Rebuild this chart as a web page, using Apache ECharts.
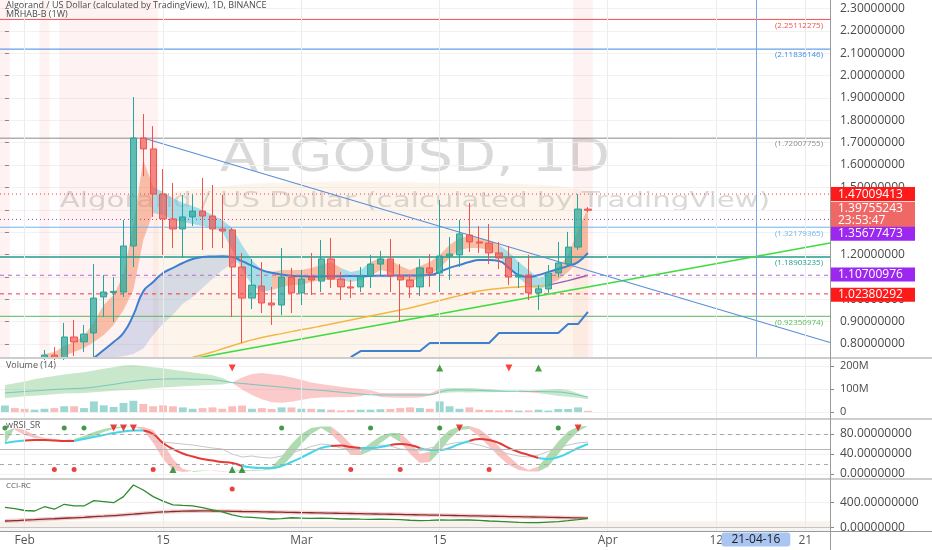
<!DOCTYPE html>
<html>
<head>
<meta charset="utf-8">
<title>ALGOUSD, 1D</title>
<script src="https://cdn.jsdelivr.net/npm/echarts@6/dist/echarts.min.js"></script>
<style>
  html, body { margin: 0; padding: 0; background: #fff; }
  #chart { width: 932px; height: 550px; }
</style>
</head>
<body>
<div id="chart"></div>
<script>
// ---- values ----
const firstDay = '2021-01-30';
const dayCount = 84;
const tickDays = ['2021-02-01', '2021-02-15', '2021-03-01', '2021-03-15', '2021-04-01', '2021-04-12', '2021-04-21'];
const tickLabels = ['Feb', '15', 'Mar', '15', 'Apr', '12', '21'];
const crossDay = '2021-04-16';
const crossLabel = '21-04-16';

const priceTicks = [0.8, 0.9, 1.0, 1.1, 1.2, 1.3, 1.4, 1.5, 1.6, 1.7, 1.8, 1.9, 2.0, 2.1, 2.2, 2.3];

// daily candles [open, close, low, high], first one on index 4 (Feb 3)
const firstCandle = 4;
const candles = [
  [0.737, 0.750, 0.728, 0.773], [0.750, 0.737, 0.728, 0.786], [0.737, 0.831, 0.728, 0.894],
  [0.831, 0.809, 0.746, 0.907], [0.809, 0.844, 0.764, 0.885], [0.849, 1.005, 0.737, 1.157],
  [1.010, 1.032, 0.920, 1.108], [1.030, 1.035, 0.898, 1.099], [1.032, 1.238, 1.010, 1.354],
  [1.238, 1.721, 1.144, 1.904], [1.721, 1.672, 1.550, 1.828], [1.672, 1.470, 1.368, 1.774],
  [1.470, 1.359, 1.198, 1.582], [1.359, 1.314, 1.229, 1.520], [1.314, 1.368, 1.184, 1.466],
  [1.368, 1.394, 1.327, 1.466], [1.394, 1.372, 1.220, 1.542], [1.372, 1.314, 1.229, 1.511],
  [1.314, 1.305, 1.229, 1.466], [1.310, 1.144, 0.920, 1.318], [1.144, 1.005, 0.804, 1.207],
  [1.005, 1.063, 0.956, 1.180], [1.059, 0.983, 0.938, 1.166], [0.983, 0.974, 0.885, 1.055],
  [0.974, 1.099, 0.929, 1.229], [1.099, 1.028, 0.938, 1.140], [1.028, 1.090, 0.974, 1.131],
  [1.099, 1.086, 1.019, 1.207], [1.081, 1.180, 1.032, 1.265], [1.180, 1.090, 1.050, 1.274],
  [1.090, 1.055, 0.996, 1.122], [1.055, 1.050, 1.005, 1.086], [1.055, 1.104, 1.032, 1.144],
  [1.104, 1.157, 1.050, 1.198], [1.157, 1.180, 1.108, 1.216], [1.180, 1.104, 1.032, 1.269],
  [1.104, 1.086, 0.900, 1.157], [1.086, 1.055, 1.005, 1.108], [1.055, 1.140, 1.014, 1.180],
  [1.140, 1.117, 1.055, 1.202], [1.117, 1.193, 1.032, 1.444], [1.193, 1.202, 1.086, 1.278],
  [1.198, 1.292, 1.144, 1.354], [1.287, 1.256, 1.211, 1.430], [1.256, 1.251, 1.207, 1.327],
  [1.251, 1.207, 1.157, 1.336], [1.207, 1.184, 1.135, 1.256], [1.184, 1.099, 1.063, 1.238],
  [1.099, 1.108, 1.050, 1.166], [1.108, 1.028, 0.996, 1.198], [1.028, 1.046, 0.952, 1.063],
  [1.046, 1.117, 1.028, 1.153], [1.117, 1.162, 1.099, 1.256], [1.157, 1.233, 1.144, 1.301],
  [1.233, 1.403, 1.220, 1.470], [1.403, 1.39755, 1.390, 1.412]
];

// MRHAB band around the candles (o = orange, c = cyan)
const haLow = [0.737, 0.737, 0.746, 0.764, 0.782, 0.809, 0.840, 0.885, 0.952, 1.041,
  1.265, 1.385, 1.377, 1.354, 1.345, 1.336, 1.327, 1.318, 1.300, 1.220,
  1.131, 1.063, 1.032, 1.041, 1.055, 1.063, 1.063, 1.077, 1.086, 1.086,
  1.086, 1.077, 1.086, 1.104, 1.131, 1.122, 1.095, 1.077, 1.095, 1.108,
  1.140, 1.184, 1.220, 1.229, 1.229, 1.220, 1.193, 1.140, 1.095, 1.059,
  1.041, 1.063, 1.086, 1.122, 1.166, 1.211];
const haHigh = [0.755, 0.764, 0.791, 0.809, 0.835, 0.898, 0.974, 1.019, 1.108, 1.332,
  1.622, 1.502, 1.480, 1.453, 1.430, 1.417, 1.399, 1.377, 1.354, 1.318,
  1.242, 1.175, 1.131, 1.122, 1.131, 1.131, 1.131, 1.140, 1.153, 1.166,
  1.140, 1.122, 1.131, 1.166, 1.184, 1.175, 1.149, 1.131, 1.149, 1.166,
  1.198, 1.242, 1.274, 1.283, 1.274, 1.265, 1.242, 1.211, 1.166, 1.131,
  1.095, 1.108, 1.140, 1.198, 1.309, 1.408];
const haState = 'ooooooooooo' + 'cccccccccccc' + 'ooooooo' + 'ccc' + 'ooooooooooooo' + 'ccccc' + 'ooooo';

// weekly blue line and its shaded band (from index 9)
const blueFrom = 9;
const blueLine = [0.737, 0.773, 0.809, 0.849, 0.930, 1.035, 1.077, 1.117, 1.140, 1.162,
  1.180, 1.189, 1.191, 1.192, 1.189, 1.170, 1.150, 1.130, 1.118, 1.110,
  1.105, 1.103, 1.102, 1.102, 1.103, 1.103, 1.104, 1.104, 1.104, 1.105,
  1.105, 1.106, 1.106, 1.107, 1.108, 1.122, 1.140, 1.153, 1.166, 1.175,
  1.175, 1.171, 1.140, 1.108, 1.099, 1.108, 1.122, 1.135, 1.149, 1.166, 1.207];
const blueLow = [0.737, 0.738, 0.740, 0.745, 0.755, 0.780, 0.840, 0.890, 0.930, 0.980,
  1.010, 1.050, 1.090, 1.130, 1.160, 1.170];

// slow average (yellow, from index 19) and its purple tail (from index 55)
const smaFrom = 19;
const smaLine = [0.741, 0.752, 0.764, 0.778, 0.792, 0.805, 0.818, 0.829, 0.838, 0.846,
  0.855, 0.863, 0.871, 0.880, 0.889, 0.898, 0.907, 0.916, 0.925, 0.934,
  0.943, 0.952, 0.961, 0.972, 0.983, 0.994, 1.005, 1.016, 1.028, 1.037,
  1.043, 1.048, 1.052, 1.055, 1.057, 1.059, 1.061];
const purpleFrom = 55;
const purpleLine = [1.063, 1.073, 1.083, 1.095, 1.107];

// weekly step line (from index 35)
const stepFrom = 35;
const stepLine = [0.741, 0.768, 0.768, 0.768, 0.768, 0.768, 0.768, 0.768,
  0.804, 0.804, 0.804, 0.804, 0.804, 0.804, 0.804,
  0.849, 0.849, 0.849, 0.849, 0.849, 0.849, 0.849, 0.889, 0.889, 0.943];

// large peach cloud top edge (from index 15)
const cloudFrom = 15;
const cloudTop = [1.40, 1.45, 1.475, 1.485, 1.49, 1.495, 1.50, 1.505, 1.51, 1.513,
  1.516, 1.518, 1.52, 1.522, 1.523, 1.524, 1.525, 1.525, 1.526, 1.526,
  1.526, 1.525, 1.525, 1.524, 1.524, 1.523, 1.523, 1.522, 1.522, 1.521,
  1.521, 1.52, 1.52, 1.52, 1.519, 1.518, 1.517, 1.516, 1.514, 1.512,
  1.51, 1.505, 1.50, 1.49, 1.48];

// drawn trend lines [day index, price]
const greenTrend = [[19.4, 0.737], [83.5, 1.251]];
const blueTrend = [[14, 1.721], [83.5, 0.806]];

// pink highlighted days [from, to]
const pinkDays = [[0, 0], [4, 4], [6, 15], [58, 59]];
const volPinkDays = [[9, 9], [44, 44]];

// horizontal levels
const levelValues = [2.25112275, 2.11836146, 1.72007755, 1.32179365, 1.18903235, 0.92350974];
const boxValues = [1.47009413, 1.39755243, 1.35677473, 1.10700976, 1.02380292];
const countdown = '23:53:47';

// volume, millions
const volume = [28, 17, 14, 10, 14, 17, 25, 25, 17, 46, 29, 22, 39, 49, 35, 25, 29, 25, 20, 14,
  17, 20, 14, 25, 28, 14, 17, 13, 20, 20, 14, 14, 12, 10, 7, 9, 10, 10, 12, 13,
  17, 20, 17, 14, 46, 25, 14, 20, 10, 9, 7, 9, 6, 7, 10, 6, 13, 13, 20, 5];
const earlyVolUp = [true, false, false, true];
const volMid = [83, 86, 89, 92, 95, 98, 100, 102, 104, 108, 114, 120, 127, 133, 138, 141, 143, 144, 144, 143,
  142, 140, 135, 128, 124, 120, 116, 112, 108, 104, 100, 97, 94, 90, 86, 82, 78, 75, 74, 74,
  74, 74, 74, 75, 86, 95, 96, 95, 94, 92, 91, 90, 90, 89, 89, 88, 87, 82, 74, 65];
const volUp = [117, 125, 133, 142, 150, 157, 163, 168, 173, 180, 188, 195, 202, 204, 200, 195, 190, 184, 178, 172,
  166, 160, 148, 128, 150, 165, 170, 164, 160, 150, 140, 128, 122, 115, 110, 104, 100, 95, 83, 83,
  83, 83, 83, 80, 100, 104, 104, 104, 102, 100, 96, 92, 94, 93, 96, 98, 100, 96, 82, 65];
const volLo = [61, 64, 68, 71, 74, 77, 80, 82, 83, 86, 89, 92, 95, 97, 100, 103, 106, 109, 112, 114,
  116, 118, 120, 126, 98, 74, 55, 42, 40, 45, 52, 60, 63, 64, 64, 65, 68, 80, 65, 63,
  62, 62, 63, 72, 80, 85, 86, 85, 86, 86, 87, 88, 86, 86, 82, 76, 70, 66, 62, 55];
const volState = 'ggggggggggggggggggggggg' + 'ppppppppppppppppppppp' + 'gggggggg' + 'pp' + 'gggggg';
const volDown = [23, 51];
const volRise = [44, 54];
const volMarkLevel = 191;

// wRSI_SR
const rsiFast = [85, 88, 78, 72, 70, 68, 66, 70, 76, 84, 90, 94, 95, 94, 88, 62, 30, 8, 4, 6,
  7, 6, 5, 6, 8, 7, 8, 14, 35, 60, 80, 92, 95, 80, 60, 38, 46, 62, 76, 82,
  64, 40, 22, 45, 70, 88, 95, 90, 75, 55, 35, 18, 8, 5, 15, 40, 65, 85, 95, 96];
const rsiSlow = [60, 92, 88, 78, 72, 70, 68, 66, 70, 76, 84, 90, 93, 95, 94, 88, 62, 30, 10, 4,
  6, 7, 6, 5, 6, 8, 7, 9, 14, 35, 60, 80, 92, 95, 80, 60, 38, 46, 62, 76,
  82, 64, 40, 24, 45, 70, 88, 96, 90, 75, 55, 35, 18, 8, 5, 15, 40, 65, 85, 95];
const rsiSignal = [62, 65, 67, 68, 68, 67, 66, 66, 70, 74, 78, 82, 85, 87, 87, 80, 62, 50, 41, 35,
  30, 27, 24, 22, 16, 13, 12, 12, 16, 24, 33, 43, 52, 56, 57, 54, 52, 52, 54, 58,
  60, 58, 52, 48, 48, 52, 60, 66, 70, 68, 62, 52, 44, 38, 32, 30, 34, 42, 52, 60];
const signalState = 'cc' + 'rrrrr' + 'ccccccc' + 'rrrrrrrrrr' + 'ccccccccc' + 'rrr' + 'ccc' + 'rrr' + 'ccccc' + 'rrrrrrr' + 'cccccc';
const rsiRawFrom = 15;
const rsiRaw = [66, 64, 62, 60, 58, 55, 52, 50, 40, 34, 36, 33, 32, 36, 42, 48, 55, 60, 58, 52,
  50, 50, 55, 58, 56, 50, 48, 46, 52, 56, 60, 64, 62, 58, 52, 46, 40, 36, 34, 38,
  45, 52, 58, 62, 64];
const rsiLevels = [80, 50, 20];
const rsiTopLevel = 92, rsiBottomLevel = 9;
const rsiTopGreen = [0, 6, 8, 28, 37, 44, 56];
const rsiTopRed = [11, 12, 13, 46, 58];
const rsiBottomRed = [5, 7, 15, 35, 40, 49];
const rsiBottomGreen = [17, 23, 24];

// CCI-RC
const cci = [320, 300, 270, 262, 330, 290, 369, 342, 342, 426, 410, 394, 490, 676, 596, 490, 420, 358, 350, 345,
  315, 280, 248, 200, 168, 160, 150, 135, 140, 155, 150, 145, 150, 145, 135, 135, 132, 130, 132, 130,
  125, 115, 108, 112, 119, 118, 120, 119, 112, 103, 98, 90, 82, 78, 77, 85, 93, 108, 125, 146];
const cciMa = [103, 109, 117, 124, 132, 139, 147, 154, 162, 171, 180, 190, 200, 212, 225, 237, 247, 254, 259, 262,
  263, 262, 260, 257, 254, 252, 249, 246, 243, 240, 237, 234, 231, 228, 225, 222, 219, 216, 213, 210,
  207, 204, 201, 198, 195, 192, 189, 186, 183, 180, 177, 174, 171, 168, 165, 162, 159, 156, 152, 148];
const cciDots = [[23, 612]];
const cciZone = [0, 100];

// ---- helpers ----
const dates = [];
for (let i = 0; i < dayCount; i++) {
  const d = new Date(Date.parse(firstDay + 'T00:00:00Z') + i * 86400000);
  dates.push(d.toISOString().slice(0, 10));
}

function place(values, from) {
  const out = [];
  for (let i = 0; i < from; i++) out.push('-');
  return out.concat(values);
}
function segment(values, state, key) {
  return values.map((v, i) => (v !== '-' && (state[i] === key || state[i - 1] === key)) ? v : '-');
}
function band(lo, hi, state, key) {
  const base = [], width = [];
  lo.forEach((l, i) => {
    const on = l !== '-' && hi[i] !== '-' && (state[i] === key || state[i - 1] === key);
    base.push(on ? Math.min(l, hi[i]) : '-');
    width.push(on ? +Math.abs(hi[i] - l).toFixed(5) : '-');
  });
  return { base, width };
}
function stackPair(name, b, color, xi, yi, z) {
  return [
    { name: name + '-base', type: 'line', xAxisIndex: xi, yAxisIndex: yi, stack: name, data: b.base,
      symbol: 'none', lineStyle: { opacity: 0 }, silent: true, z: z },
    { name: name, type: 'line', xAxisIndex: xi, yAxisIndex: yi, stack: name, data: b.width,
      symbol: 'none', lineStyle: { opacity: 0 }, areaStyle: { color: color, opacity: 1 }, silent: true, z: z }
  ];
}
function vGrid(extra) {
  const data = tickDays.map(d => ({ xAxis: d, lineStyle: { color: gridLineColor, type: 'solid', width: 1 } }));
  return data.concat(extra || []);
}
function markerSeries(idx, level, symbol, color, size, rotate, xi, yi) {
  return {
    type: 'scatter', xAxisIndex: xi, yAxisIndex: yi, symbol: symbol, symbolSize: size,
    symbolRotate: rotate || 0, itemStyle: { color: color }, silent: true, z: 6,
    data: idx.map(i => [i, level])
  };
}
// a horizontal level drawn across the whole day range, with its tag as a markLine label
function levelSeries(v, color, width, type, label, showLine) {
  return {
    type: 'line', xAxisIndex: 4, yAxisIndex: 0, silent: true, z: 3, symbol: 'none',
    data: [[-0.5, v], [dayCount - 0.5, v]],
    lineStyle: { color: color, width: width, type: type, opacity: showLine ? 1 : 0 },
    markLine: { silent: true, symbol: ['none', 'none'], animation: false,
      lineStyle: { color: 'rgba(0,0,0,0)', width: 0 },
      label: label, data: [{ yAxis: v }] }
  };
}

const font = "'Open Sans', 'DejaVu Sans', sans-serif";
const wideFont = "'DejaVu Sans', sans-serif";
const gridLineColor = '#ececec';
const axisTextColor = '#4a4a4a';

// ---- main price panel ----
const haStateFull = ' '.repeat(firstCandle) + haState;
const haLowFull = place(haLow, firstCandle);
const haHighFull = place(haHigh, firstCandle);
const haOrange = band(haLowFull, haHighFull, haStateFull, 'o');
const haCyan = band(haLowFull, haHighFull, haStateFull, 'c');

const blueLineFull = place(blueLine, blueFrom);
const blueLowFull = place(blueLow, blueFrom);
const blueBand = band(blueLowFull, blueLineFull.slice(0, blueLowFull.length), ' '.repeat(blueFrom) + 'b'.repeat(blueLow.length), 'b');

const levelColors = ['#f0524f', '#3d8be0', '#8a8a8a', '#6fb4ee', '#1f9c8c', '#58b858'];
const levelWidths = [1, 1, 1, 1, 1.5, 1];
const boxColors = ['#ff1a1a', '#f06866', '#9b27f0', '#9b27f0', '#ff1a1a'];
const boxLineColors = ['#f23645', '#f06866', '#a33ac4', '#b36ad6', '#f23645'];
const boxLineShown = [true, false, true, true, true];
const boxLineTypes = [[1, 3], 'solid', [1, 3], [4, 4], [4, 4]];
const boxOffsets = [[0, 0], [0, 5], [0, 15], [0, 0], [0, 0]];

const levelSeriesList = levelValues.map((v, k) => levelSeries(v, levelColors[k], levelWidths[k], 'solid', {
  show: true, position: 'insideEndBottom', distance: [7, 2], fontSize: 8,
  color: levelColors[k], formatter: '(' + v.toFixed(8) + ')'
}, true));
const boxSeriesList = boxValues.map((v, k) => levelSeries(v, boxLineColors[k], 1, boxLineTypes[k], {
  show: true, position: 'end', distance: 0, offset: boxOffsets[k],
  backgroundColor: boxColors[k], color: '#fff', fontSize: 12, lineHeight: 12,
  padding: [1, 8, 1, 8], width: 69, align: 'left',
  formatter: k === 1 ? v.toFixed(8) + '\n' + countdown : v.toFixed(8)
}, boxLineShown[k]));

const candleData = candles.map((c, k) => [firstCandle + k, c[0], c[1], c[2], c[3]]);

// ---- volume panel ----
const volBars = volume.map((v, i) => {
  const up = i < firstCandle ? earlyVolUp[i] : candles[i - firstCandle][1] >= candles[i - firstCandle][0];
  return { value: v * 1e6, itemStyle: { color: up ? 'rgba(38,166,154,0.45)' : 'rgba(239,83,80,0.38)' } };
});
const volUpM = volUp.map(v => v * 1e6), volLoM = volLo.map(v => v * 1e6);
const volGreen = band(volLoM, volUpM, volState, 'g');
const volPink = band(volLoM, volUpM, volState, 'p');

// ---- wRSI ----
const ribState = rsiFast.map((f, i) => f >= rsiSlow[i] ? 'g' : 'p').join('');
const ribGreen = band(rsiFast, rsiSlow, ribState, 'g');
const ribPink = band(rsiFast, rsiSlow, ribState, 'p');

// ---- options ----
const grids = [
  { left: 0, right: 102, top: 0, height: 357 },
  { left: 0, right: 102, top: 359, height: 59 },
  { left: 0, right: 102, top: 420, height: 58 },
  { left: 0, right: 102, top: 480, height: 51.5 }
];

function catAxis(gi, showLabels) {
  return {
    type: 'category', gridIndex: gi, data: dates, boundaryGap: true,
    axisLine: { show: false }, axisTick: { show: false }, splitLine: { show: false },
    axisLabel: showLabels ? {
      show: true, margin: 3, color: '#555', fontSize: 12,
      interval: (idx, val) => tickDays.indexOf(val) >= 0,
      formatter: val => tickLabels[tickDays.indexOf(val)] || ''
    } : { show: false }
  };
}
function valAxis(gi, min, max, ticks, fmt, fontSize) {
  return {
    type: 'value', gridIndex: gi, position: 'right', min: min, max: max,
    axisLine: { show: false },
    axisTick: { show: true, length: 4, lineStyle: { color: '#888' }, customValues: ticks },
    axisLabel: { customValues: ticks, formatter: fmt, color: axisTextColor, fontSize: fontSize || 12, margin: 10 },
    splitLine: { show: true, lineStyle: { color: '#f2f2f2' } }
  };
}

const xAxes = [catAxis(0, false), catAxis(1, false), catAxis(2, false), catAxis(3, true),
  { type: 'value', gridIndex: 0, min: -0.5, max: dayCount - 0.5, show: false }];
xAxes[3].axisPointer = {
  show: true, value: dates.indexOf(crossDay), status: 'show', type: 'line',
  lineStyle: { opacity: 0 }, handle: { show: false },
  label: { show: true, formatter: () => crossLabel, backgroundColor: '#a9c6f2', color: '#1b1b1b',
    fontSize: 12, padding: [1, 10, 1, 10], margin: 1, fontFamily: font }
};

const yAxes = [
  valAxis(0, 0.7415, 2.338, priceTicks, v => v.toFixed(8)),
  valAxis(1, -26.1e6, 230.4e6, [0, 1e8, 2e8], v => v === 0 ? '0' : (v / 1e6) + 'M', 11),
  valAxis(2, -8, 108, [0, 40, 80], v => v.toFixed(8)),
  valAxis(3, -64, 755, [0, 400], v => v.toFixed(8))
];

const crossLine = { xAxis: crossDay, lineStyle: { color: '#7ea6e0', width: 1, type: 'solid' } };

const series = [
  // peach cloud with the vertical grid lines
  { name: 'cloud', type: 'line', xAxisIndex: 0, yAxisIndex: 0, data: place(cloudTop, cloudFrom),
    symbol: 'none', smooth: true, lineStyle: { opacity: 0 }, silent: true, z: 1,
    areaStyle: { color: 'rgba(245,190,130,0.22)', origin: 'start' },
    markLine: { silent: true, symbol: ['none', 'none'], label: { show: false }, data: vGrid([crossLine]) } },
  // pink day highlights + trend lines on the day-index axis
  { name: 'greenTrend', type: 'line', xAxisIndex: 4, yAxisIndex: 0, data: greenTrend, symbol: 'none',
    lineStyle: { color: '#3fdc3f', width: 1.6 }, silent: true, z: 4,
    markArea: { silent: true, itemStyle: { color: 'rgba(255,110,110,0.09)' },
      data: pinkDays.map(p => [{ xAxis: p[0] - 0.5 }, { xAxis: p[1] + 0.5 }]) } },
  { name: 'blueTrend', type: 'line', xAxisIndex: 4, yAxisIndex: 0, data: blueTrend, symbol: 'none',
    lineStyle: { color: '#5b8fd6', width: 1.1 }, silent: true, z: 4 },
  ...levelSeriesList,
  ...stackPair('blueBand', blueBand, 'rgba(90,135,200,0.24)', 0, 0, 2),
  ...stackPair('haOrange', haOrange, 'rgba(242,125,75,0.45)', 0, 0, 2),
  ...stackPair('haCyan', haCyan, 'rgba(95,200,228,0.55)', 0, 0, 2),
  { name: 'blueLine', type: 'line', xAxisIndex: 0, yAxisIndex: 0, data: blueLineFull, symbol: 'none',
    smooth: true, lineStyle: { color: '#3f7fcf', width: 2 }, silent: true, z: 3 },
  { name: 'sma', type: 'line', xAxisIndex: 0, yAxisIndex: 0, data: place(smaLine, smaFrom), symbol: 'none',
    smooth: true, lineStyle: { color: '#f2b845', width: 1.5 }, silent: true, z: 3 },
  { name: 'purple', type: 'line', xAxisIndex: 0, yAxisIndex: 0, data: place(purpleLine, purpleFrom), symbol: 'none',
    lineStyle: { color: '#9c5bb5', width: 1.5 }, silent: true, z: 3 },
  { name: 'step', type: 'line', xAxisIndex: 0, yAxisIndex: 0, data: place(stepLine, stepFrom), symbol: 'none',
    lineStyle: { color: '#3f7fcf', width: 2 }, silent: true, z: 3 },
  { name: 'ALGOUSD', type: 'candlestick', xAxisIndex: 0, yAxisIndex: 0, data: candleData,
    encode: { x: 0, y: [1, 2, 3, 4] }, barWidth: '68%', z: 5,
    itemStyle: { color: 'rgba(38,166,154,0.72)', color0: 'rgba(239,83,80,0.68)',
      borderColor: '#26a69a', borderColor0: '#ef5350', borderWidth: 1 } },
  ...boxSeriesList,

  // volume
  ...stackPair('volGreen', volGreen, 'rgba(76,175,80,0.3)', 1, 1, 2),
  ...stackPair('volPink', volPink, 'rgba(239,83,80,0.3)', 1, 1, 2),
  { name: 'volMid', type: 'line', xAxisIndex: 1, yAxisIndex: 1, data: volMid.map(v => v * 1e6), symbol: 'none',
    smooth: true, lineStyle: { color: '#74c6bd', width: 1 }, silent: true, z: 3,
    markArea: { silent: true, itemStyle: { color: 'rgba(255,110,110,0.1)' },
      data: volPinkDays.map(p => [{ xAxis: dates[p[0]] }, { xAxis: dates[p[1]] }]) },
    markLine: { silent: true, symbol: ['none', 'none'], label: { show: false }, data: vGrid() } },
  { name: 'Volume', type: 'bar', xAxisIndex: 1, yAxisIndex: 1, data: volBars, barWidth: '80%', silent: true, z: 4 },
  markerSeries(volDown, volMarkLevel * 1e6, 'triangle', '#ff1010', 7, 180, 1, 1),
  markerSeries(volRise, volMarkLevel * 1e6, 'triangle', '#1a8a1a', 7, 0, 1, 1),

  // wRSI_SR
  ...stackPair('ribGreen', ribGreen, 'rgba(76,175,80,0.45)', 2, 2, 2),
  ...stackPair('ribPink', ribPink, 'rgba(239,83,80,0.35)', 2, 2, 2),
  { name: 'rsiRaw', type: 'line', xAxisIndex: 2, yAxisIndex: 2, data: place(rsiRaw, rsiRawFrom), symbol: 'none',
    lineStyle: { color: '#c8c8c8', width: 1 }, silent: true, z: 3,
    markLine: { silent: true, symbol: ['none', 'none'], label: { show: false },
      data: vGrid().concat(rsiLevels.map(v => ({ yAxis: v,
          lineStyle: { color: v === 50 ? '#b5b5b5' : '#a8a8a8', type: v === 50 ? 'solid' : [4, 4], width: 1 } }))) } },
  { name: 'signalRed', type: 'line', xAxisIndex: 2, yAxisIndex: 2, data: segment(rsiSignal, signalState, 'r'),
    symbol: 'none', smooth: true, lineStyle: { color: '#e53935', width: 2 }, silent: true, z: 4 },
  { name: 'signalCyan', type: 'line', xAxisIndex: 2, yAxisIndex: 2, data: segment(rsiSignal, signalState, 'c'),
    symbol: 'none', smooth: true, lineStyle: { color: '#45d6e8', width: 2 }, silent: true, z: 4 },
  markerSeries(rsiTopGreen, rsiTopLevel, 'circle', '#17801a', 5, 0, 2, 2),
  markerSeries(rsiTopRed, rsiTopLevel, 'triangle', '#e51010', 7, 180, 2, 2),
  markerSeries(rsiBottomRed, rsiBottomLevel, 'circle', '#e51010', 5, 0, 2, 2),
  markerSeries(rsiBottomGreen, rsiBottomLevel, 'triangle', '#17801a', 7, 0, 2, 2),

  // CCI-RC
  { name: 'cciMaShade', type: 'line', xAxisIndex: 3, yAxisIndex: 3, data: cciMa, symbol: 'none', smooth: true,
    lineStyle: { color: 'rgba(214,120,120,0.35)', width: 4 }, silent: true, z: 2,
    markArea: { silent: true, data: [
      [{ yAxis: cciZone[0], itemStyle: { color: 'rgba(235,210,190,0.3)' } }, { yAxis: cciZone[1] }],
      [{ yAxis: -64, itemStyle: { color: 'rgba(220,215,210,0.25)' } }, { yAxis: cciZone[0] }]
    ] },
    markLine: { silent: true, symbol: ['none', 'none'], label: { show: false },
      data: vGrid().concat([{ yAxis: 0, lineStyle: { color: '#c4c4c4', type: 'solid', width: 1 } }]) } },
  { name: 'cciMa', type: 'line', xAxisIndex: 3, yAxisIndex: 3, data: cciMa, symbol: 'none', smooth: true,
    lineStyle: { color: '#8b2a2a', width: 1.3 }, silent: true, z: 3 },
  { name: 'cci', type: 'line', xAxisIndex: 3, yAxisIndex: 3, data: cci, symbol: 'none',
    lineStyle: { color: '#2e8b2e', width: 1.3 }, silent: true, z: 4 },
  { type: 'scatter', xAxisIndex: 3, yAxisIndex: 3, data: cciDots, symbol: 'circle', symbolSize: 5,
    itemStyle: { color: '#e51010' }, silent: true, z: 5 }
];

const graphic = [
  { type: 'text', left: 6, top: 1, z: 50, style: { text: 'Algorand / US Dollar (calculated by TradingView), 1D, BINANCE',
    fill: '#4a4a4a', font: '9px ' + font } },
  { type: 'text', left: 6, top: 10, z: 50, style: { text: 'MRHAB-B (1W)', fill: '#4a4a4a', font: '9px ' + font } },
  { type: 'text', x: 415, y: 160, scaleX: 1.27, z: 0, style: { text: 'ALGOUSD, 1D', fill: 'rgba(120,120,120,0.28)',
    font: '44px ' + wideFont, align: 'center', verticalAlign: 'middle' } },
  { type: 'text', x: 415, y: 201, scaleX: 1.33, z: 0, style: { text: 'Algorand / US Dollar (calculated by TradingView)',
    fill: 'rgba(120,120,120,0.28)', font: '22px ' + wideFont, align: 'center', verticalAlign: 'middle' } },
  { type: 'text', left: 6, top: 361, z: 50, style: { text: 'Volume (14)', fill: '#555', font: '9px ' + font } },
  { type: 'text', left: 6, top: 421, z: 50, style: { text: 'wRSI_SR', fill: '#555', font: '9px ' + font } },
  { type: 'text', left: 6, top: 482, z: 50, style: { text: 'CCI-RC', fill: '#555', font: '8px ' + font } },
  { type: 'line', z: 40, shape: { x1: 0, y1: 358, x2: 932, y2: 358 }, style: { stroke: '#cdcdcd', lineWidth: 2 } },
  { type: 'line', z: 40, shape: { x1: 0, y1: 419, x2: 932, y2: 419 }, style: { stroke: '#cdcdcd', lineWidth: 2 } },
  { type: 'line', z: 40, shape: { x1: 0, y1: 479, x2: 932, y2: 479 }, style: { stroke: '#cdcdcd', lineWidth: 2 } },
  { type: 'line', z: 40, shape: { x1: 0, y1: 531.5, x2: 932, y2: 531.5 }, style: { stroke: '#9a9a9a', lineWidth: 1 } },
  { type: 'line', z: 40, shape: { x1: 830.5, y1: 0, x2: 830.5, y2: 550 }, style: { stroke: '#9a9a9a', lineWidth: 1 } }
];

const chart = echarts.init(document.getElementById('chart'));
chart.setOption({
  animation: false,
  backgroundColor: '#ffffff',
  textStyle: { fontFamily: font },
  grid: grids,
  xAxis: xAxes,
  yAxis: yAxes,
  axisPointer: { link: [] },
  series: series,
  graphic: graphic
});
</script>
</body>
</html>
